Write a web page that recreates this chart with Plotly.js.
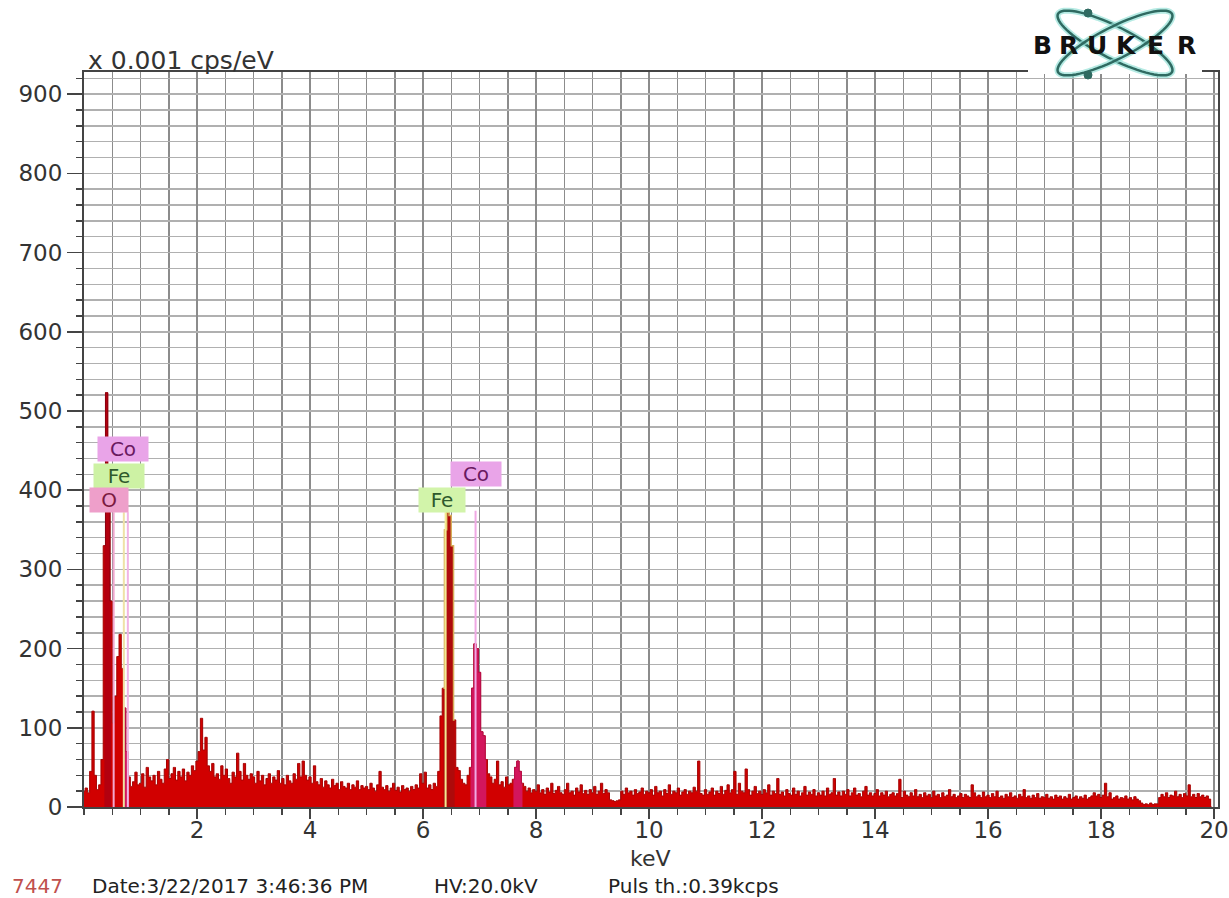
<!DOCTYPE html>
<html>
<head>
<meta charset="utf-8">
<script src="https://cdn.plot.ly/plotly-3.0.1.min.js"></script>
<style>
  html, body { margin: 0; padding: 0; background: #ffffff; }
  #chart { width: 1229px; height: 898px; }
</style>
</head>
<body>
<div id="chart"></div>
<script>
// EDS spectrum, counts in units of 0.001 cps/eV, one value per 0.04 keV channel
const channelWidth = 0.04; // keV
const counts = [
  // 0.00 - 0.96 keV
  20, 24, 18, 45, 121, 40, 22, 28, 60, 330, 523, 390, 260, 106, 140, 190, 218, 175, 125, 70, 38, 26, 32, 44, 28,
  // 1.00 - 1.96
  30, 42, 25, 50, 38, 33, 40, 28, 45, 35, 30, 48, 60, 36, 42, 50, 34, 45, 38, 48, 33, 44, 40, 52, 46,
  // 2.00 - 2.96
  58, 70, 112, 72, 88, 52, 45, 55, 38, 42, 35, 52, 40, 48, 36, 30, 44, 38, 68, 45, 34, 55, 40, 35, 42,
  // 3.00 - 3.96
  38, 30, 45, 33, 40, 28, 36, 42, 30, 38, 34, 46, 30, 36, 28, 40, 33, 30, 42, 35, 55, 38, 58, 40, 34,
  // 4.00 - 4.96
  38, 30, 52, 32, 28, 36, 25, 33, 28, 24, 35, 27, 30, 22, 32, 26, 24, 30, 22, 28, 25, 33, 22, 27, 24,
  // 5.00 - 5.96
  26, 22, 30, 24, 20, 28, 45, 25, 22, 27, 20, 24, 30, 21, 25, 19, 27, 22, 24, 20, 26, 22, 28, 24, 42,
  // 6.00 - 6.96
  30, 44, 24, 28, 22, 30, 26, 45, 115, 150, 350, 372, 368, 330, 110, 50, 46, 35, 30, 28, 40, 50, 150, 206, 200,
  // 7.00 - 7.96
  170, 95, 90, 60, 42, 38, 30, 35, 58, 28, 32, 25, 38, 28, 30, 35, 50, 58, 45, 30, 26, 20, 24, 18, 22,
  // 8.00 - 8.96
  20, 28, 18, 22, 16, 24, 19, 30, 17, 21, 26, 18, 16, 22, 30, 18, 20, 15, 24, 19, 28, 17, 21, 16, 22,
  // 9.00 - 9.96
  18, 26, 16, 20, 30, 17, 22, 18, 9, 8, 7, 8, 9, 20, 16, 24, 18, 20, 15, 22, 17, 19, 24, 16, 20,
  // 10.00 - 10.96
  18, 22, 15, 26, 18, 20, 14, 22, 17, 28, 16, 20, 18, 24, 15, 19, 22, 16, 20, 18, 25, 20, 58, 17, 15,
  // 11.00 - 11.96
  22, 16, 19, 24, 15, 20, 17, 26, 16, 21, 28, 18, 22, 45, 16, 30, 20, 18, 48, 22, 15, 20, 26, 17, 20,
  // 12.00 - 12.96
  16, 22, 18, 28, 15, 20, 17, 36, 16, 19, 14, 22, 17, 15, 24, 16, 20, 14, 18, 26, 15, 19, 16, 22, 14,
  // 13.00 - 13.96
  18, 15, 20, 14, 24, 16, 18, 36, 15, 19, 14, 20, 16, 22, 14, 18, 24, 15, 17, 13, 20, 26, 15, 18, 14,
  // 14.00 - 14.96
  17, 22, 14, 18, 15, 20, 13, 16, 18, 14, 17, 35, 12, 20, 15, 13, 18, 14, 22, 13, 16, 12, 18, 14, 16,
  // 15.00 - 15.96
  12, 20, 14, 16, 12, 18, 13, 15, 22, 13, 16, 12, 14, 17, 12, 16, 14, 12, 28, 18, 13, 15, 12, 19, 13,
  // 16.00 - 16.96
  15, 12, 17, 13, 20, 12, 14, 11, 16, 13, 18, 12, 14, 11, 16, 13, 22, 12, 14, 11, 15, 12, 17, 11, 13,
  // 17.00 - 17.96
  12, 16, 11, 13, 10, 15, 12, 14, 10, 13, 11, 16, 10, 12, 14, 10, 13, 11, 15, 10, 12, 14, 18, 14, 16,
  // 18.00 - 18.96
  12, 15, 30, 13, 18, 10, 12, 14, 10, 12, 11, 14, 10, 12, 9, 13, 10, 8, 5, 3, 4, 3, 5, 3, 4,
  // 19.00 - 19.96
  4, 12, 16, 13, 18, 12, 15, 14, 20, 13, 16, 12, 17, 14, 28, 13, 16, 12, 17, 13, 15, 12, 14, 10, 0
];
const energies = counts.map((_, i) => Math.round(i * channelWidth * 100) / 100);

// Identified element lines (keV) and their marker heights
const markerLines = [
  { name: 'O K',  energy: 0.525, top: 372, color: '#f2a8d0' },
  { name: 'Fe L', energy: 0.705, top: 372, color: '#efe2a6' },
  { name: 'Co L', energy: 0.776, top: 372, color: '#f1b4e6' },
  { name: 'Fe K', energy: 6.40,  top: 372, color: '#f2ea92' },
  { name: 'Co K', energy: 6.93,  top: 374, color: '#f0a8e4' }
];
const elementLabels = [
  { text: 'Co', x: 0.69,  y: 452, bg: '#e9a4e8', fg: '#6a1a60', w: 48 },
  { text: 'Fe', x: 0.62,  y: 418, bg: '#cdf2a4', fg: '#2f5a2c', w: 48 },
  { text: 'O',  x: 0.434, y: 387, bg: '#ee9fca', fg: '#7b1a40', w: 36 },
  { text: 'Fe', x: 6.34,  y: 387, bg: '#d2f4aa', fg: '#2f5a2c', w: 44 },
  { text: 'Co', x: 6.93,  y: 420, bg: '#e9a4e8', fg: '#6a1a60', w: 48 }
];
// Energy windows drawn in element colours
const cobaltWindows = [[0.70, 0.82], [6.84, 7.12], [7.60, 7.76]];
const oxygenWindow = [0.34, 0.50];
const ironWindow = [6.36, 6.56];

const xTickValues = [2, 4, 6, 8, 10, 12, 14, 16, 18, 20];
const yTickStep = 100;
const footerItems = [
  { text: '7447', px: 10, color: '#c0504d' },
  { text: 'Date:3/22/2017 3:46:36 PM', px: 90, color: '#222222' },
  { text: 'HV:20.0kV', px: 432, color: '#222222' },
  { text: 'Puls th.:0.39kcps', px: 606, color: '#222222' }
];

// plot-area geometry in page pixels
const W = 1229, H = 898;
const M = { l: 84, r: 11, t: 72, b: 91 };
const plotW = W - M.l - M.r, plotH = H - M.t - M.b;
const px2paperX = px => (px - M.l) / plotW;
const py2paperY = py => (H - M.b - py) / plotH;

function windowOf(lo, hi) {
  const x = [], y = [];
  energies.forEach((e, i) => { if (e >= lo - 1e-9 && e <= hi + 1e-9) { x.push(e); y.push(counts[i]); } });
  return { x, y };
}

const traces = [{
  x: energies, y: counts, type: 'scatter', mode: 'lines',
  line: { shape: 'hvh', color: '#a50000', width: 1 },
  fill: 'tozeroy', fillcolor: '#d10000', hoverinfo: 'skip'
}];
{
  const w = windowOf(oxygenWindow[0], oxygenWindow[1]);
  traces.push({ x: w.x, y: w.y, type: 'scatter', mode: 'lines',
    line: { shape: 'hvh', color: '#8c0010', width: 1 }, fill: 'tozeroy', fillcolor: '#b3000f', hoverinfo: 'skip' });
}
cobaltWindows.forEach(([lo, hi]) => {
  const w = windowOf(lo, hi);
  traces.push({ x: w.x, y: w.y, type: 'scatter', mode: 'lines',
    line: { shape: 'hvh', color: '#b80f4c', width: 1 }, fill: 'tozeroy', fillcolor: '#d3165c', hoverinfo: 'skip' });
});
{
  const w = windowOf(ironWindow[0], ironWindow[1]);
  traces.push({ x: w.x, y: w.y, type: 'scatter', mode: 'lines',
    line: { shape: 'hvh', color: '#d6ae5a', width: 1.5 }, fill: 'tozeroy', fillcolor: '#ae0a0a', hoverinfo: 'skip' });
}

const shapes = markerLines.map(m => ({
  type: 'line', xref: 'x', yref: 'y', x0: m.energy, x1: m.energy, y0: 0, y1: m.top,
  line: { color: m.color, width: 2 }, layer: 'above'
}));

// Bruker logo: white patch over the frame, two crossed orbits and electrons
shapes.push({
  type: 'rect', xref: 'paper', yref: 'paper', layer: 'above',
  x0: px2paperX(1028), x1: px2paperX(1202), y0: py2paperY(74), y1: py2paperY(0),
  fillcolor: '#ffffff', line: { width: 0 }
});
function orbitPath(cx, cy, a, b, angDeg) {
  const t = angDeg * Math.PI / 180;
  let d = '';
  for (let k = 0; k <= 72; k++) {
    const u = (k / 72) * 2 * Math.PI;
    const ex = a * Math.cos(u), ey = b * Math.sin(u);
    const px = cx + ex * Math.cos(t) - ey * Math.sin(t);
    const py = cy + ex * Math.sin(t) + ey * Math.cos(t);
    d += (k === 0 ? 'M' : 'L') + px2paperX(px).toFixed(5) + ',' + py2paperY(py).toFixed(5);
  }
  return d + 'Z';
}
[27, -27].forEach(ang => {
  const p = orbitPath(1115, 43, 64, 16, ang);
  shapes.push({ type: 'path', xref: 'paper', yref: 'paper', layer: 'above', path: p,
    line: { color: 'rgba(150,225,215,0.7)', width: 6 } });
  shapes.push({ type: 'path', xref: 'paper', yref: 'paper', layer: 'above', path: p,
    line: { color: '#2f6a61', width: 2.5 } });
});
[[1088, 13], [1088, 75]].forEach(([cx, cy]) => {
  shapes.push({ type: 'circle', xref: 'paper', yref: 'paper', layer: 'above',
    x0: px2paperX(cx - 4), x1: px2paperX(cx + 4), y0: py2paperY(cy + 4), y1: py2paperY(cy - 4),
    fillcolor: '#2f6a61', line: { color: '#2f6a61', width: 1 } });
});

const annotations = [];
elementLabels.forEach(l => annotations.push({
  x: l.x, y: l.y, xref: 'x', yref: 'y', xanchor: 'center', yanchor: 'middle',
  text: l.text, showarrow: false,
  bgcolor: l.bg, width: l.w, height: 22, borderpad: 1,
  font: { family: 'DejaVu Sans', size: 20, color: l.fg }
}));
['B', 'R', 'U', 'K', 'E', 'R'].forEach((ch, i) => annotations.push({
  x: px2paperX([1042, 1068, 1097, 1126, 1155, 1186][i]), y: py2paperY(45),
  xref: 'paper', yref: 'paper', xanchor: 'center', yanchor: 'middle',
  text: '<b>' + ch + '</b>', showarrow: false,
  font: { family: 'DejaVu Sans', size: 25, color: '#111111' }
}));
annotations.push({
  x: px2paperX(86), y: py2paperY(60), xref: 'paper', yref: 'paper', xanchor: 'left', yanchor: 'middle',
  text: 'x 0.001 cps/eV', showarrow: false,
  font: { family: 'DejaVu Sans', size: 25, color: '#333333' }
});
annotations.push({
  x: px2paperX(650), y: py2paperY(858), xref: 'paper', yref: 'paper', xanchor: 'center', yanchor: 'middle',
  text: 'keV', showarrow: false,
  font: { family: 'DejaVu Sans', size: 22, color: '#333333' }
});
footerItems.forEach(f => annotations.push({
  x: px2paperX(f.px), y: py2paperY(886), xref: 'paper', yref: 'paper', xanchor: 'left', yanchor: 'middle',
  text: f.text, showarrow: false,
  font: { family: 'DejaVu Sans', size: 20, color: f.color }
}));

const layout = {
  width: W, height: H, margin: M,
  paper_bgcolor: '#ffffff', plot_bgcolor: '#ffffff', showlegend: false,
  xaxis: {
    range: [0, 20.07], tickmode: 'array', tickvals: xTickValues,
    ticks: 'outside', ticklen: 10, tickwidth: 1.5, tickcolor: '#444444', ticklabelstandoff: -9,
    showline: true, linecolor: '#444444', linewidth: 2, mirror: true,
    showgrid: true, gridcolor: '#8c8c8c', gridwidth: 1.5, zeroline: false, automargin: false,
    tickfont: { family: 'DejaVu Sans', size: 23, color: '#333333' },
    minor: { tick0: 0, dtick: 0.5, ticks: 'outside', ticklen: 6, tickwidth: 1.5, tickcolor: '#444444',
      showgrid: true, gridcolor: '#8c8c8c', gridwidth: 1.5 }
  },
  yaxis: {
    range: [0, 928], tick0: 0, dtick: yTickStep,
    ticks: 'outside', ticklen: 15, tickwidth: 1.5, tickcolor: '#444444',
    showline: true, linecolor: '#444444', linewidth: 2, mirror: true,
    showgrid: true, gridcolor: '#b0b0b0', gridwidth: 1.5, zeroline: false, automargin: false,
    tickfont: { family: 'DejaVu Sans', size: 23, color: '#333333' },
    minor: { tick0: 0, dtick: 20, ticks: 'outside', ticklen: 6, tickwidth: 1.5, tickcolor: '#444444',
      showgrid: true, gridcolor: '#b0b0b0', gridwidth: 1.5 }
  },
  shapes, annotations
};

Plotly.newPlot('chart', traces, layout, { staticPlot: true, displayModeBar: false });
</script>
</body>
</html>
